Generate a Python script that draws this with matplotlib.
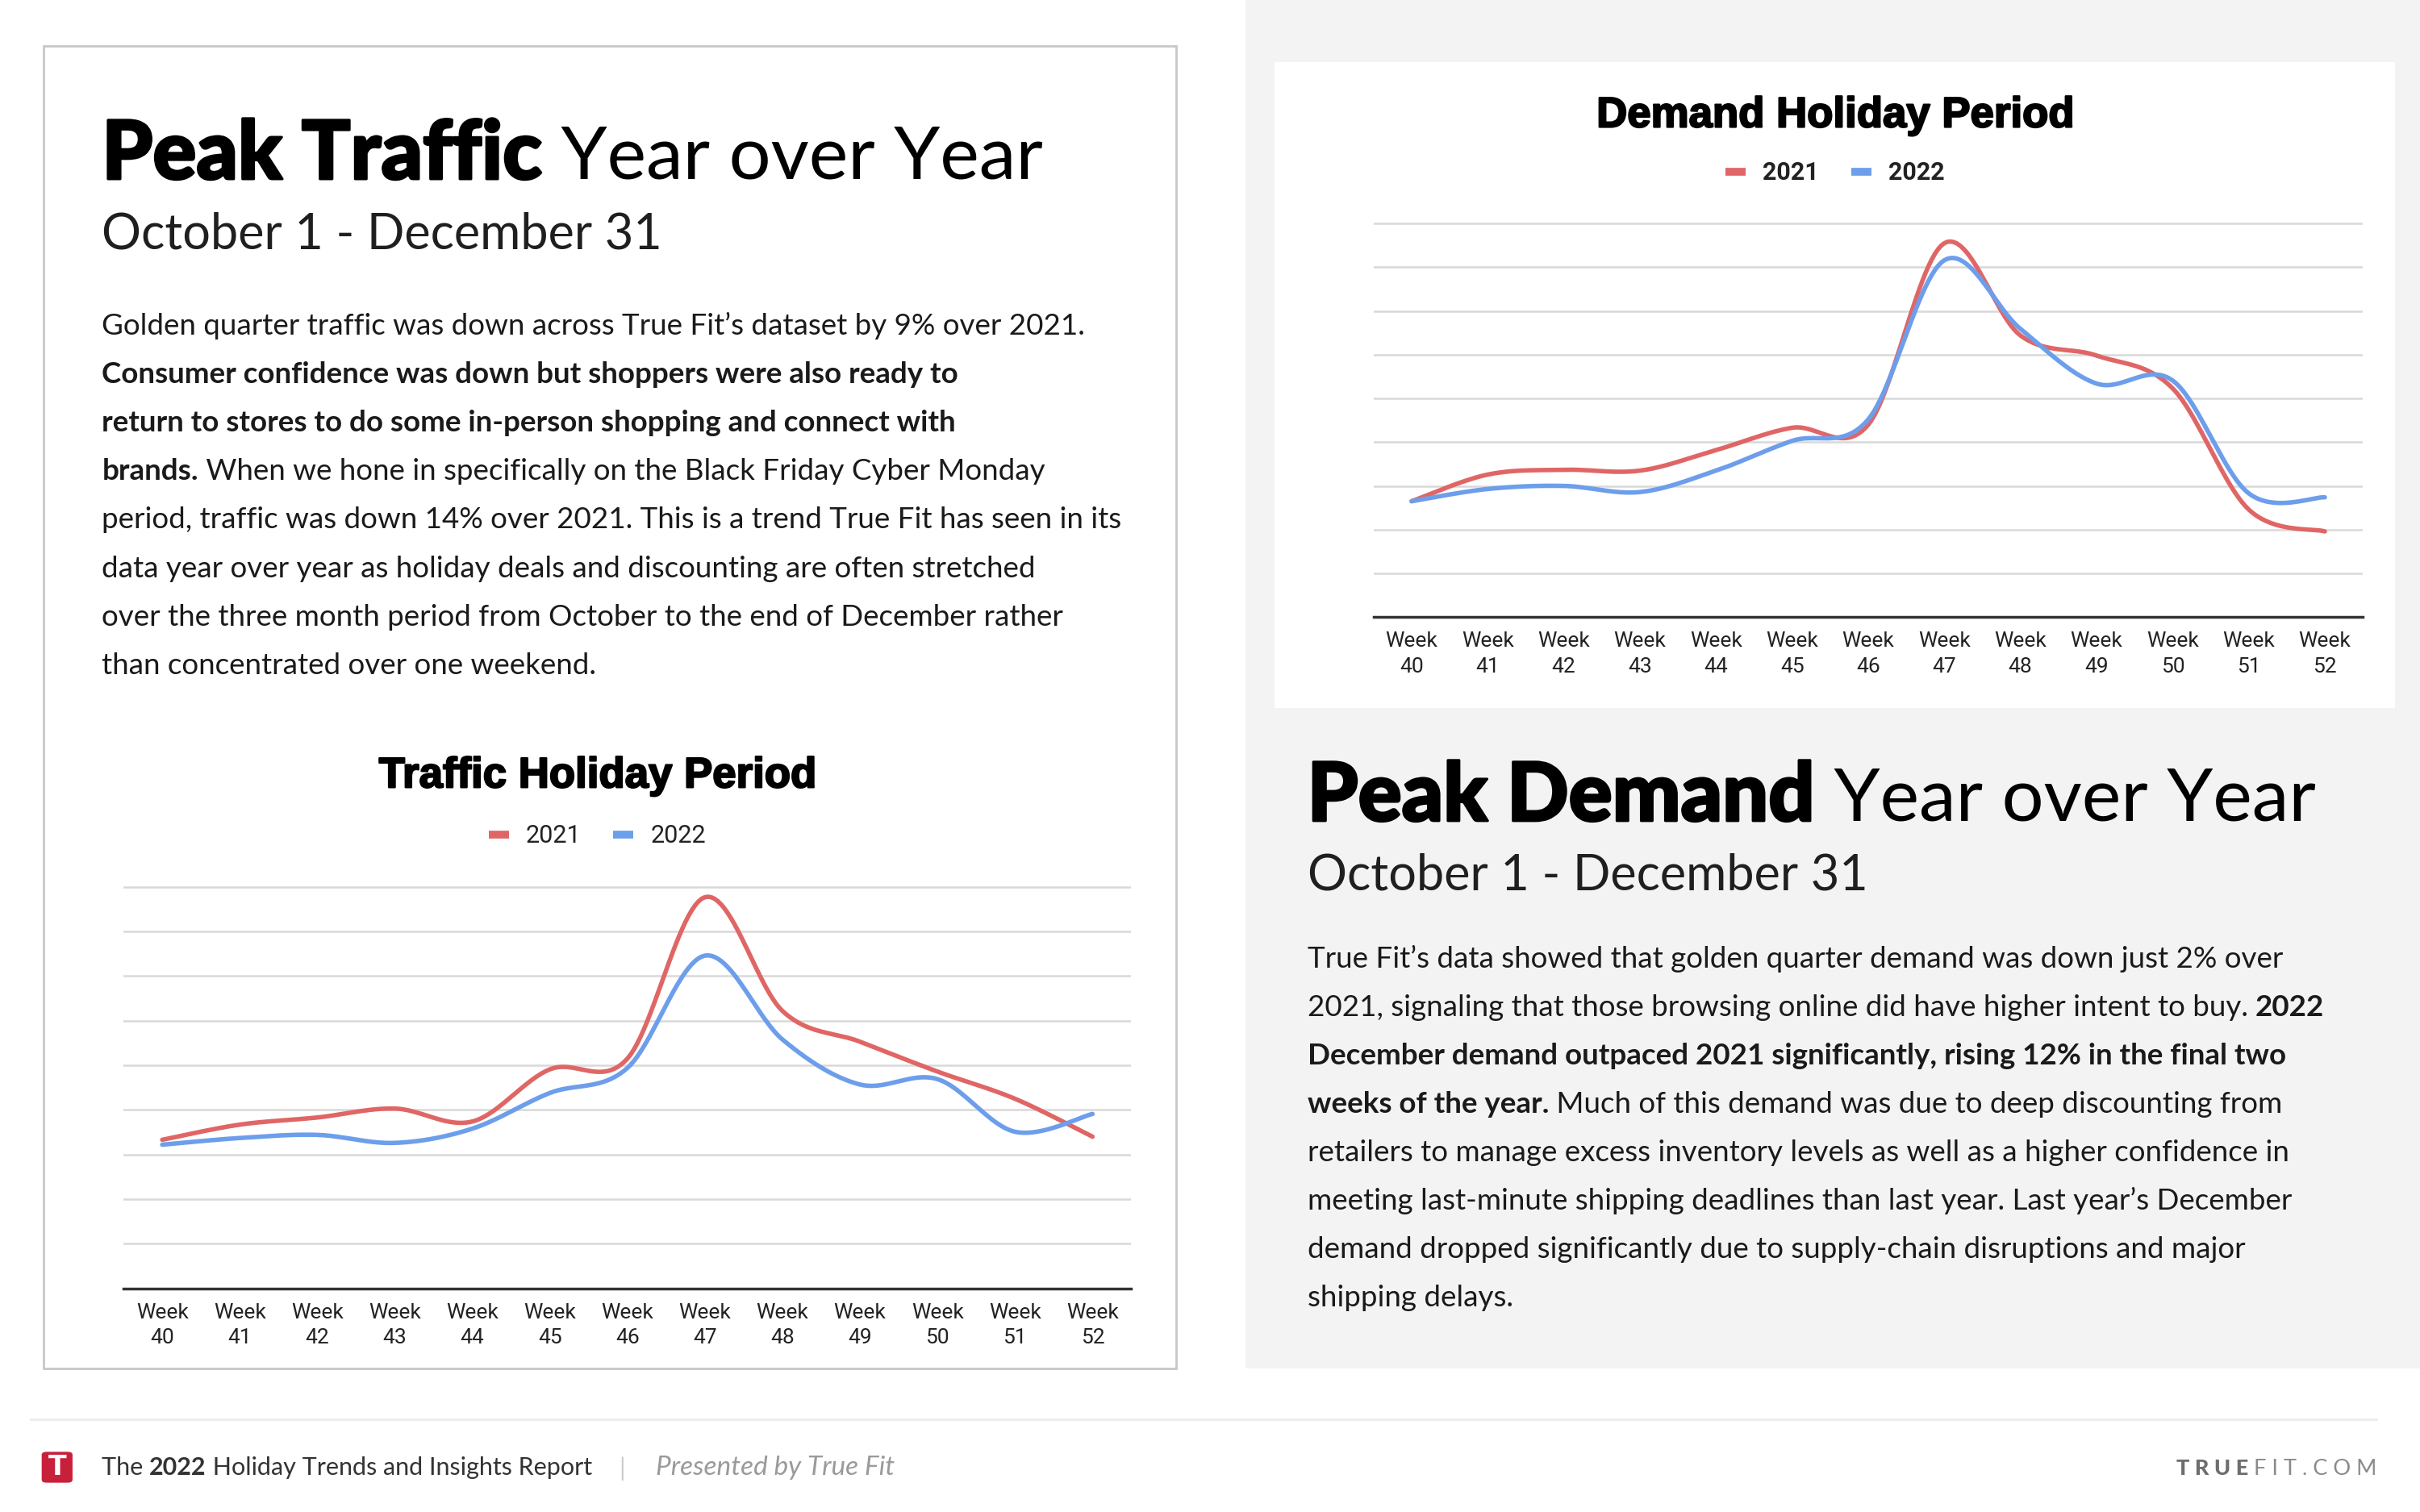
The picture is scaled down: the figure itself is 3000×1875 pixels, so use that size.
import matplotlib.pyplot as plt
import numpy as np
from matplotlib.lines import Line2D
from matplotlib.patches import Rectangle, FancyBboxPatch
import matplotlib.patheffects as pe

weeks = [f"Week\n{w}" for w in range(40, 53)]
series_names = ["2021", "2022"]

traffic_2021 = [3.33, 3.67, 3.83, 4.03, 3.74, 4.91, 5.15, 8.77, 6.22, 5.53, 4.86, 4.25, 3.40]
traffic_2022 = [3.22, 3.37, 3.44, 3.26, 3.58, 4.38, 4.94, 7.46, 5.58, 4.57, 4.69, 3.51, 3.91]

demand_2021 = [2.65, 3.26, 3.37, 3.35, 3.82, 4.33, 4.40, 8.55, 6.44, 5.98, 5.23, 2.46, 1.96]
demand_2022 = [2.65, 2.93, 3.00, 2.86, 3.35, 4.03, 4.52, 8.16, 6.59, 5.34, 5.41, 2.83, 2.74]

traffic_body = [
    [("Golden quarter traffic was down across True Fit\u2019s dataset by 9% over 2021.", False)],
    [("Consumer confidence was down but shoppers were also ready to", True)],
    [("return to stores to do some in-person shopping and connect with", True)],
    [("brands.", True), (" When we hone in specifically on the Black Friday Cyber Monday", False)],
    [("period, traffic was down 14% over 2021. This is a trend True Fit has seen in its", False)],
    [("data year over year as holiday deals and discounting are often stretched", False)],
    [("over the three month period from October to the end of December rather", False)],
    [("than concentrated over one weekend.", False)],
]
demand_body = [
    [("True Fit\u2019s data showed that golden quarter demand was down just 2% over", False)],
    [("2021, signaling that those browsing online did have higher intent to buy. ", False), ("2022", True)],
    [("December demand outpaced 2021 significantly, rising 12% in the final two", True)],
    [("weeks of the year.", True), (" Much of this demand was due to deep discounting from", False)],
    [("retailers to manage excess inventory levels as well as a higher confidence in", False)],
    [("meeting last-minute shipping deadlines than last year. Last year\u2019s December", False)],
    [("demand dropped significantly due to supply-chain disruptions and major", False)],
    [("shipping delays.", False)],
]

RED = "#e06666"
BLUE = "#6d9eeb"
PROSE = "Lato"
W, H = 1568, 980  # layout grid of the reference, in its pixels


def fx(x):
    return x / W


def fy(y):
    return 1 - y / H


def smooth(vals, n=24):
    # Catmull-Rom, like the spreadsheet "smoothed line"
    p = np.column_stack([np.arange(len(vals), dtype=float), np.asarray(vals, float)])
    p = np.vstack([p[0], p, p[-1]])
    t = np.linspace(0, 1, n, endpoint=False)[:, None]
    out = []
    for i in range(1, len(p) - 2):
        p0, p1, p2, p3 = p[i - 1], p[i], p[i + 1], p[i + 2]
        out.append(0.5 * (2 * p1 + (p2 - p0) * t
                          + (2 * p0 - 5 * p1 + 4 * p2 - p3) * t ** 2
                          + (3 * p1 - p0 - 3 * p2 + p3) * t ** 3))
    out.append(p[-2][None])
    out = np.vstack(out)
    return out[:, 0], out[:, 1]


fig = plt.figure(figsize=(30, 18.75), dpi=100)
bg = fig.add_axes([0, 0, 1, 1])
bg.set_xlim(0, 1)
bg.set_ylim(0, 1)
bg.axis("off")

# panels
bg.add_patch(Rectangle((fx(807), fy(887)), 1 - fx(807), 1 - fy(887), color="#f3f3f3", lw=0))
bg.add_patch(Rectangle((fx(826), fy(459)), fx(1552) - fx(826), fy(40) - fy(459), color="white", lw=0))
bg.add_patch(Rectangle((fx(28), fy(887)), fx(762) - fx(28), fy(30) - fy(887),
                       facecolor="white", edgecolor="#c8c8c8", lw=2))
bg.plot([fx(20), fx(1540)], [fy(920), fy(920)], color="#ececec", lw=2)

heavy = [pe.withStroke(linewidth=2.2, foreground="black")]


def rich(x, y, parts, size, color="#111111", bold_w="bold", reg_w="normal", family=PROSE,
         style="normal"):
    prev = None
    for txt, is_bold in parts:
        props = dict(fontsize=size, color=color, family=family, style=style,
                     fontweight=bold_w if is_bold else reg_w)
        if prev is None:
            prev = bg.text(x, y, txt, ha="left", va="baseline", **props)
        else:
            prev = bg.annotate(txt, xy=(1, y), xycoords=(prev, "data"), ha="left",
                               va="baseline", **props)
    return prev


def block(x, y_head, head_bold, lines, y_first):
    first = bg.text(fx(x), fy(y_head), head_bold, ha="left", va="baseline", fontsize=72.5,
                    color="black", family=PROSE, fontweight="black", path_effects=heavy)
    bg.annotate(" Year over Year", xy=(1, fy(y_head)), xycoords=(first, "data"), ha="left",
                va="baseline", fontsize=66, color="black", family=PROSE)
    rich(fx(x), fy(y_head + 45), [("October 1 - December 31", False)], 44, color="#1f1f1f")
    for i, parts in enumerate(lines):
        rich(fx(x), fy(y_first + i * 31.4), parts, 26.5, color="#1a1a1a")


def chart(left, right, top, bottom, cx, s21, s22, title, title_y, leg_y, leg_bold):
    ax = fig.add_axes([fx(left), fy(bottom), fx(right) - fx(left), fy(top) - fy(bottom)])
    ax.patch.set_alpha(0)
    for vals, col in ((s21, RED), (s22, BLUE)):
        xs, ys = smooth(vals)
        ax.plot(xs, ys, color=col, lw=4, solid_capstyle="round")
    ax.set_xlim(-0.5, 12.5)
    ax.set_ylim(0, 9.03)
    ax.set_yticks(range(1, 10))
    ax.yaxis.grid(True, color="#d9d9d9", lw=1.8)
    ax.set_axisbelow(True)
    ax.tick_params(axis="y", length=0, labelleft=False)
    ax.set_xticks(range(len(weeks)))
    ax.set_xticklabels(weeks, fontsize=19, family="Roboto", color="#222222", linespacing=1.4)
    ax.tick_params(axis="x", length=0, pad=13)
    for s in ("top", "right", "left"):
        ax.spines[s].set_visible(False)
    ax.spines["bottom"].set_color("#333333")
    ax.spines["bottom"].set_linewidth(2.5)
    t = bg.text(fx(cx), fy(title_y), title, ha="center", va="center", fontsize=38,
                family="Liberation Sans", fontweight="bold", color="black")
    t.set_path_effects([pe.withStroke(linewidth=1.6, foreground="black")])
    handles = [Line2D([], [], color=c, lw=7, solid_capstyle="butt") for c in (RED, BLUE)]
    ax.legend(handles, series_names, loc="center", bbox_to_anchor=(fx(cx), fy(leg_y)),
              bbox_transform=fig.transFigure, ncol=2, frameon=False, handlelength=0.82,
              handletextpad=0.7, columnspacing=1.3,
              prop=dict(family="Roboto", size=22, weight="bold" if leg_bold else "normal"))
    for t in ax.get_legend().get_texts():
        t.set_color("#222222")
    return ax


block(66, 116, "Peak Traffic", traffic_body, 217)
block(847, 532, "Peak Demand", demand_body, 627)

chart(80, 733, 574, 835, 387, traffic_2021, traffic_2022, "Traffic Holiday Period", 503, 542, False)
chart(890, 1531, 144, 400, 1189, demand_2021, demand_2022, "Demand Holiday Period", 75, 112, True)

# footer
bg.add_patch(FancyBboxPatch((fx(27), fy(961)), fx(47) - fx(27), fy(941) - fy(961),
                            boxstyle="round,pad=0,rounding_size=0.002", color="#c8203b", lw=0))
bg.text(fx(37), fy(951), "T", ha="center", va="center", fontsize=24, fontweight="bold",
        family="DejaVu Sans", color="white")
rich(fx(66), fy(956), [("The ", False), ("2022", True), (" Holiday Trends and Insights Report", False)],
     22, color="#333333")
bg.text(fx(403), fy(957), "|", ha="center", va="baseline", fontsize=22, color="#cccccc", family=PROSE)
bg.text(fx(425), fy(956), "Presented by True Fit", ha="left", va="baseline", fontsize=24,
        color="#9a9a9a", family=PROSE, style="italic")
fit = bg.text(fx(1540), fy(956), "F I T . C O M", ha="right", va="baseline", fontsize=19.5,
              color="#8a8a8a", family=PROSE)
bg.annotate("T R U E ", xy=(0, fy(956)), xycoords=(fit, "data"), ha="right", va="baseline",
            fontsize=19.5, color="#6e6e6e", family=PROSE, fontweight="black")

fig.savefig("out.png", dpi=100, facecolor="white")
